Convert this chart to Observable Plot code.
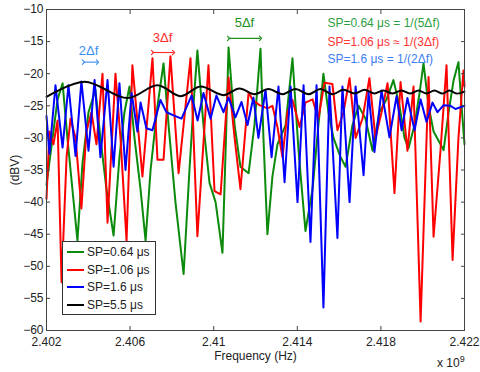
<!DOCTYPE html>
<html><head><meta charset="utf-8">
<script src="https://cdn.jsdelivr.net/npm/d3@7"></script>
<script src="https://cdn.jsdelivr.net/npm/@observablehq/plot@0.6"></script>
<style>
body{margin:0;background:#fff;}
#wrap{position:relative;width:480px;height:372px;font-family:"Liberation Sans",Arial,sans-serif;color:#222;}
#legend{position:absolute;left:62px;top:241px;width:92px;height:72px;border:1px solid #333;background:#fff;font-size:12px;}
.row{position:absolute;left:0;height:16px;line-height:16px;white-space:nowrap;}
.sw{position:absolute;left:4px;top:7px;width:17px;height:2px;}
.lab{position:absolute;left:24px;top:0;}
#exp{position:absolute;left:437px;top:354px;font-size:12px;}
</style></head>
<body><div id="wrap"></div>
<script>
// Series: SP=0.64 µs (green)
const greenF=[2402.00,2402.29,2402.53,2402.77,2403.00,2403.24,2403.48,2403.72,2404.01,2404.34,2404.58,2404.87,2405.21,2405.49,2405.73,2405.97,2406.21,2406.50,2406.74,2406.98,2407.31,2407.60,2407.84,2408.17,2408.56,2408.84,2409.03,2409.22,2409.51,2409.80,2410.09,2410.42,2410.57,2410.71,2411.00,2411.28,2411.67,2411.95,2412.24,2412.38,2412.57,2412.81,2413.05,2413.44,2413.77,2414.06,2414.39,2414.73,2415.01,2415.25,2415.49,2415.73,2416.07,2416.31,2416.64,2416.93,2417.26,2417.60,2417.93,2418.27,2418.60,2418.89,2419.13,2419.32,2419.61,2419.85,2420.04,2420.28,2420.52,2421.00,2421.24,2421.48,2421.71,2421.86,2422.00];
const greenV=[-37.3,-30,-24,-21.5,-30,-38,-46,-34,-26,-22.5,-30,-38,-45.2,-33,-26,-22,-30,-38,-46,-35,-25,-18.4,-28,-40,-51.2,-35,-25,-16.4,-28,-37,-40,-47.9,-32,-15.9,-28,-34.5,-35.5,-28,-16.1,-30,-45,-36,-31,-28,-17.6,-32,-44.5,-38,-28,-20,-26,-30,-33,-34.5,-28,-25,-27,-32,-26,-24,-21,-25,-30,-31.6,-28,-23,-18.4,-25,-29,-31.9,-26,-21,-18.2,-25,-31];
// Series: SP=1.06 µs (red)
const redF=[2402.00,2402.14,2402.33,2402.53,2402.72,2402.96,2403.15,2403.39,2403.67,2403.91,2404.15,2404.39,2404.68,2404.92,2405.30,2405.54,2405.83,2406.11,2406.59,2407.07,2407.31,2407.60,2407.93,2408.32,2408.89,2409.22,2409.75,2410.04,2410.33,2410.71,2411.00,2411.28,2411.67,2411.86,2412.19,2412.57,2412.81,2413.05,2413.29,2413.53,2413.77,2414.11,2414.39,2414.73,2415.01,2415.30,2415.68,2415.92,2416.21,2416.50,2416.79,2417.12,2417.45,2417.74,2418.03,2418.32,2418.65,2418.94,2419.27,2419.56,2419.90,2420.28,2420.52,2420.85,2421.14,2421.43,2421.71,2421.95,2422.00];
const redV=[-39.5,-29,-31,-27.3,-52.5,-33,-27,-30,-41,-29,-26,-31,-20,-43.2,-20,-30,-46,-18.7,-36,-17.6,-33.4,-33.4,-17.3,-35.5,-17.6,-45.3,-18.7,-38.3,-38.8,-20.6,-30,-38,-22.9,-24.1,-24.9,-25.4,-25,-28.3,-33,-26,-24.1,-28.3,-24.5,-24,-27,-21.4,-21.6,-28.8,-26,-20.7,-30,-27,-20.7,-30,-26,-21.5,-38.6,-21.3,-32,-22,-58.6,-20.5,-45.4,-32,-18.7,-49,-30,-19.5,-22];
// Series: SP=1.6 µs (blue)
const blueF=[2402.00,2402.14,2402.43,2402.77,2403.05,2403.39,2403.67,2404.01,2404.30,2404.58,2404.92,2405.21,2405.49,2405.78,2406.07,2406.35,2406.50,2406.78,2407.07,2407.45,2407.74,2408.08,2408.46,2408.94,2409.23,2409.51,2409.85,2410.13,2410.47,2410.71,2411.04,2411.33,2411.62,2411.90,2412.14,2412.48,2412.77,2413.10,2413.39,2413.68,2414.01,2414.30,2414.63,2414.92,2415.25,2415.54,2415.92,2416.16,2416.50,2416.79,2417.17,2417.41,2417.69,2418.03,2418.41,2418.75,2418.99,2419.27,2419.61,2419.90,2420.18,2420.47,2420.71,2421.00,2421.33,2421.57,2422.00];
const blueV=[-26.6,-32.5,-21.8,-31.5,-21.8,-32.8,-21.2,-32,-21,-33,-21,-34.5,-21.5,-35,-23,-29,-24.5,-28.5,-28.8,-24.1,-26,-26.5,-27,-23.4,-27.3,-23,-27,-23.4,-26,-23.7,-26.8,-24.4,-28,-23.7,-30,-22.5,-33,-22,-36.9,-22,-40,-21.8,-46.2,-21.8,-56.4,-22,-45.6,-22,-40,-22,-35.8,-23,-32.2,-22.6,-29.9,-23.5,-28.8,-23.8,-28.8,-24,-27.5,-24.5,-26,-24.9,-25,-25.5,-25];
// Series: SP=5.5 µs (black)
const blackF=[2402.00,2403.82,2405.88,2407.31,2408.41,2409.37,2410.47,2411.23,2411.95,2412.62,2413.29,2413.91,2414.54,2415.11,2415.68,2416.21,2416.74,2417.22,2417.69,2418.12,2418.56,2418.99,2419.42,2419.80,2420.18,2420.56,2420.95,2421.28,2421.62,2422.00];
const blackV=[-23.6,-21.25,-23.8,-21.8,-23.5,-22.0,-23.35,-22.3,-23.2,-22.4,-23.2,-22.4,-23.2,-22.4,-23.2,-22.5,-23.1,-22.5,-23.1,-22.6,-23.1,-22.6,-23.1,-22.6,-23.1,-22.6,-23.1,-22.6,-23.1,-22.8];

const seriesNames=["SP=0.64 μs","SP=1.06 μs","SP=1.6 μs","SP=5.5 μs"];
const seriesColors=["#0b8a0b","#ff0000","#0000ff","#000000"];
const xTicks=[2402,2406,2410,2414,2418,2422];
const yTicks=[-60,-55,-50,-45,-40,-35,-30,-25,-20,-15,-10];

// annotations
const noteText=["SP=0.64 μs = 1/(5Δf)","SP=1.06 μs ≈ 1/(3Δf)","SP=1.6 μs = 1/(2Δf)"];
const noteColors=["#2ea043","#ff3333","#3d7ef5"];
const noteX=[2415.44,2415.44,2415.44];
const noteY=[-12.2,-15.1,-17.8];
const dfText=["2Δf","3Δf","5Δf"];
const dfColors=["#3a8ef0","#ff2a2a","#1a8f1a"];
const dfX=[2404.01,2407.55,2411.47];
const dfY=[-16.4,-14.35,-12.0];
const arrX1=[2403.77,2407.07,2410.71];
const arrX2=[2404.44,2408.08,2412.24];
const arrY=[-18.2,-16.7,-14.5];

const mk=(F,V)=>F.map((f,i)=>({f,v:V[i]}));
const series=[mk(greenF,greenV),mk(redF,redV),mk(blueF,blueV)];
const black=mk(blackF,blackV);
const notes=noteText.map((t,i)=>({t,x:noteX[i],y:noteY[i],c:noteColors[i]}));
const dfs=dfText.map((t,i)=>({t,x:dfX[i],y:dfY[i],c:dfColors[i],x1:arrX1[i],x2:arrX2[i],ay:arrY[i]}));
const fmt=d=>String(+(d/1000).toFixed(3));

const plot=Plot.plot({
  width:480,height:372,
  marginLeft:46,marginRight:16,marginTop:9,marginBottom:42,
  x:{domain:[2402,2422]},
  y:{domain:[-60,-10]},
  style:{fontFamily:"Liberation Sans, Arial, sans-serif",fontSize:"12px",color:"#222",background:"white",overflow:"visible"},
  marks:[
    ...series.map((d,i)=>Plot.line(d,{x:"f",y:"v",stroke:seriesColors[i],strokeWidth:2})),
    Plot.line(black,{x:"f",y:"v",stroke:seriesColors[3],strokeWidth:2,curve:"catmull-rom"}),
    Plot.frame({stroke:"#444"}),
    Plot.axisX({ticks:xTicks,tickSize:0,tickPadding:7,tickFormat:fmt,label:"Frequency (Hz)",labelAnchor:"center",labelOffset:29,labelArrow:"none"}),
    Plot.axisX({ticks:xTicks,tickSize:-4,tickFormat:()=>"",label:null,stroke:"#444"}),
    Plot.axisX({anchor:"top",ticks:xTicks,tickSize:-4,tickFormat:()=>"",label:null,stroke:"#444"}),
    Plot.axisY({ticks:yTicks,tickSize:0,tickPadding:3,label:"(dBV)",labelAnchor:"center",labelOffset:36,labelArrow:"none"}),
    Plot.axisY({ticks:yTicks,tickSize:-4,tickFormat:()=>"",label:null,stroke:"#444"}),
    Plot.axisY({anchor:"right",ticks:yTicks,tickSize:-4,tickFormat:()=>"",label:null,stroke:"#444"}),
    Plot.text(notes,{x:"x",y:"y",text:"t",fill:"c",textAnchor:"start",fontSize:12}),
    Plot.text(dfs,{x:"x",y:"y",text:"t",fill:"c",fontSize:13}),
    Plot.link(dfs,{x1:"x1",x2:"x2",y1:"ay",y2:"ay",stroke:"c",strokeWidth:1.1,markerStart:"arrow",markerEnd:"arrow"})
  ]
});
const wrap=document.getElementById("wrap");
wrap.appendChild(plot);
const lg=document.createElement("div");lg.id="legend";
seriesNames.forEach((n,i)=>{
  const r=document.createElement("div");r.className="row";r.style.top=(2+i*17.5)+"px";
  r.innerHTML=`<div class="sw" style="background:${seriesColors[i]}"></div><div class="lab">${n}</div>`;
  lg.appendChild(r);
});
wrap.appendChild(lg);
const ex=document.createElement("div");ex.id="exp";ex.innerHTML="x 10<sup style='font-size:9px'>9</sup>";
wrap.appendChild(ex);
</script></body></html>
